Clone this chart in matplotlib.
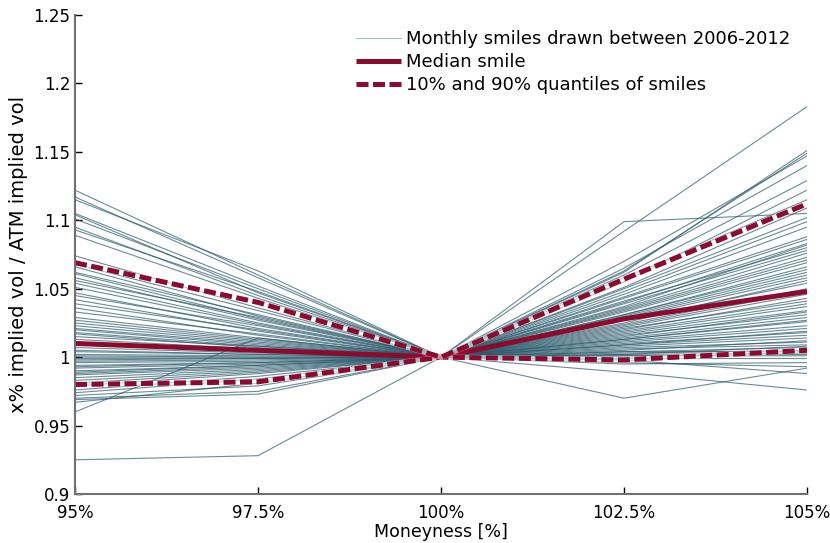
import numpy as np
import matplotlib
matplotlib.use('Agg')
import matplotlib.pyplot as plt

# Moneyness grid (percent of ATM strike)
moneyness = [95, 97.5, 100, 102.5, 105]
tick_labels = ['95%', '97.5%', '100%', '102.5%', '105%']
ytick_values = [0.9, 0.95, 1.0, 1.05, 1.1, 1.15, 1.2, 1.25]
ytick_labels = ['0.9', '0.95', '1', '1.05', '1.1', '1.15', '1.2', '1.25']

# Monthly smiles: ratio to ATM vol at 95, 97.5, 102.5, 105 (100% is 1 by construction)
smiles = [
    [1.122, 1.060, 1.040, 1.083],
    [1.117, 1.058, 1.060, 1.129],
    [1.115, 1.063, 1.030, 1.062],
    [1.105, 1.052, 1.050, 1.102],
    [1.104, 1.047, 1.022, 1.046],
    [1.101, 1.050, 1.070, 1.147],
    [1.095, 1.045, 1.035, 1.073],
    [1.093, 1.048, 1.018, 1.037],
    [1.089, 1.043, 1.058, 1.115],
    [1.074, 1.036, 1.092, 1.183],
    [1.068, 1.034, 1.028, 1.058],
    [1.066, 1.030, 1.043, 1.086],
    [1.062, 1.031, 1.014, 1.029],
    [1.061, 1.028, 1.065, 1.140],
    [1.058, 1.027, 1.033, 1.069],
    [1.056, 1.029, 1.020, 1.043],
    [1.054, 1.025, 1.099, 1.105],
    [1.051, 1.024, 1.039, 1.078],
    [1.047, 1.021, 1.012, 1.023],
    [1.045, 1.023, 1.048, 1.099],
    [1.042, 1.019, 1.027, 1.054],
    [1.039, 1.020, 1.016, 1.031],
    [1.036, 1.016, 1.062, 1.151],
    [1.033, 1.017, 1.031, 1.064],
    [1.029, 1.014, 1.010, 1.018],
    [1.027, 1.013, 1.041, 1.080],
    [1.025, 1.012, 1.024, 1.050],
    [1.023, 1.011, 1.008, 1.014],
    [1.021, 1.010, 1.036, 1.076],
    [1.020, 1.009, 1.019, 1.039],
    [1.018, 1.008, 1.055, 1.122],
    [1.017, 1.007, 1.029, 1.060],
    [1.015, 1.008, 1.011, 1.021],
    [1.013, 1.006, 1.044, 1.088],
    [1.011, 1.005, 1.021, 1.041],
    [1.009, 1.004, 1.006, 1.009],
    [1.007, 1.003, 1.034, 1.071],
    [1.005, 1.002, 1.015, 1.033],
    [1.004, 1.002, 1.063, 1.149],
    [1.002, 1.001, 1.025, 1.056],
    [1.001, 1.000, 1.004, 1.007],
    [1.000, 1.000, 1.046, 1.095],
    [0.999, 0.999, 1.017, 1.034],
    [0.998, 0.999, 1.003, 1.005],
    [0.997, 0.998, 1.031, 1.066],
    [0.996, 0.997, 1.013, 1.026],
    [0.994, 0.996, 1.051, 1.109],
    [0.993, 0.996, 1.009, 1.016],
    [0.992, 0.995, 1.037, 1.082],
    [0.990, 0.994, 1.002, 1.003],
    [0.989, 0.994, 1.023, 1.048],
    [0.988, 0.993, 1.007, 1.011],
    [0.987, 0.992, 0.970, 0.992],
    [0.985, 0.991, 1.013, 1.027],
    [0.983, 0.990, 0.989, 0.976],
    [0.981, 0.989, 1.001, 1.001],
    [0.979, 0.988, 1.009, 1.019],
    [0.976, 0.986, 0.996, 0.993],
    [0.974, 0.984, 1.005, 1.012],
    [0.972, 0.979, 0.999, 0.999],
    [0.970, 0.975, 1.002, 1.008],
    [0.969, 0.973, 0.995, 0.996],
    [0.967, 0.981, 0.998, 0.988],
    [0.960, 1.014, 1.004, 1.004],
    [0.925, 0.928, 1.001, 1.002],
]

median_smile = [1.010, 1.005, 1.000, 1.028, 1.048]
q10_smile = [0.980, 0.982, 1.000, 0.998, 1.005]
q90_smile = [1.069, 1.040, 1.000, 1.057, 1.112]

SMILE_COLOR = '#2a5a6b'
RED = '#8c0a2e'

plt.rcParams['font.family'] = ['DejaVu Sans']

fig = plt.figure(figsize=(8.3, 5.43), dpi=100)
ax = fig.add_axes([0.0904, 0.0902, 0.8819, 0.8822])

for i, s in enumerate(smiles):
    vals = [s[0], s[1], 1.0, s[2], s[3]]
    ax.plot(moneyness, vals, color=SMILE_COLOR, lw=0.8, alpha=0.7,
            label='Monthly smiles drawn between 2006-2012' if i == 0 else None)

ax.plot(moneyness, median_smile, color=RED, lw=3.6, solid_capstyle='butt',
        label='Median smile')
for j, q in enumerate([q10_smile, q90_smile]):
    ax.plot(moneyness, q, color='white', lw=4.0, alpha=0.55)
    ax.plot(moneyness, q, color=RED, lw=3.6, ls=(0, (2.4, 0.9)),
            label='10% and 90% quantiles of smiles' if j == 0 else None)

ax.set_xlim(95, 105)
ax.set_ylim(0.9, 1.25)
ax.set_xticks(moneyness)
ax.set_xticklabels(tick_labels)
ax.set_yticks(ytick_values)
ax.set_yticklabels(ytick_labels)
ax.tick_params(direction='in', length=5, width=1, colors='black', labelsize=12)
ax.tick_params(axis='x', pad=7)
for side in ['top', 'right']:
    ax.spines[side].set_visible(False)
for side in ['left', 'bottom']:
    ax.spines[side].set_color('#707070')
    ax.spines[side].set_linewidth(1.5)

ax.set_xlabel('Moneyness [%]', fontsize=12.5, labelpad=1)
ax.set_ylabel('x% implied vol / ATM implied vol', fontsize=14, labelpad=4)

leg = ax.legend(loc='upper right', bbox_to_anchor=(0.995, 0.995), frameon=False,
                fontsize=13, handlelength=2.5, handletextpad=0.3,
                labelspacing=0.28, borderaxespad=0.3)
leg.get_lines()[0].set_color('#a9bfc6')
leg.get_lines()[0].set_alpha(1.0)

fig.savefig('out.png', dpi=100)
